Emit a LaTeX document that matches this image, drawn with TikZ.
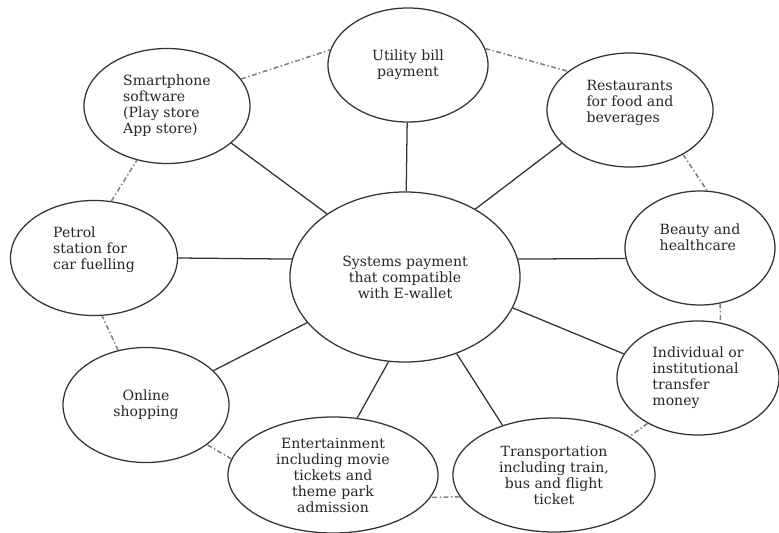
\documentclass[tikz,border=0pt]{standalone}
\usepackage{fontspec}
\setmainfont{DejaVu Serif}
\usetikzlibrary{shapes.geometric}
\begin{document}
\begin{tikzpicture}[x=0.025cm, y=-0.025cm, line join=round,
  bubble/.style={ellipse, draw=black!80, line width=0.9pt, inner sep=0pt,
    font=\fontsize{10}{11.4}\selectfont, text=black!85},
  spoke/.style={draw=black!80, line width=0.9pt},
  ring/.style={draw=black!50, line width=1.1pt, dash pattern=on 3.5pt off 1.8pt on 1pt off 1.8pt}]
\useasboundingbox (0,0) rectangle (779,533);
\node[bubble, minimum width=5.75cm, minimum height=4.25cm, align=center] (center) at (405,277) {Systems payment\\that compatible\\with E-wallet};
\node[bubble, minimum width=4cm,    minimum height=2.85cm, align=center] (utility) at (408,65) {Utility bill\\payment};
\node[bubble, minimum width=4.15cm, minimum height=2.85cm, align=left, text depth=1.2em] (rest) at (630,110) {Restaurants\\for food and\\beverages};
\node[bubble, minimum width=3.75cm, minimum height=2.85cm, align=left, text depth=1.6em] (beauty) at (700,248) {Beauty and\\healthcare};
\node[bubble, minimum width=4.05cm, minimum height=2.85cm, align=left] (indiv) at (698,378) {Individual or\\institutional\\transfer\\money};
\node[bubble, minimum width=5.05cm, minimum height=2.85cm, align=center] (transp) at (554,475) {Transportation\\including train,\\bus and flight\\ticket};
\node[bubble, minimum width=5.25cm, minimum height=2.9cm,  align=center, text depth=-0.6em] (enter) at (333,475) {Entertainment\\including movie\\tickets and\\theme park\\admission};
\node[bubble, minimum width=4.15cm, minimum height=2.875cm, align=center] (online) at (146,405) {Online\\shopping};
\node[bubble, minimum width=4.175cm, minimum height=2.875cm, align=left, text depth=1.4em] (petrol) at (94,258) {Petrol\\station for\\car fuelling};
\node[bubble, minimum width=4.15cm, minimum height=2.875cm, align=left] (smart) at (167,106) {Smartphone\\software\\(Play store\\App store)};
% spokes
\draw[spoke] (utility) -- (center);
\draw[spoke] (center.44) -- (rest.206);
\draw[spoke] (center.9) -- (beauty.188);
\draw[spoke] (center.-16) -- (indiv.162);
\draw[spoke] (center.-56) -- (transp.136);
\draw[spoke] (center.-101) -- (enter.67);
\draw[spoke] (center.205) -- (online.27);
\draw[spoke] (center.171) -- (petrol.east);
\draw[spoke] (center.141) -- (smart.-30);
% outer ring
\draw[ring] (smart.20) -- (utility.169);
\draw[ring] (utility.12) -- (rest.148);
\draw[ring] (rest.-40) -- (beauty.83);
\draw[ring] (beauty.-70) -- (indiv.68);
\draw[ring] (indiv.222) -- (transp.27);
\draw[ring] (transp.193) -- (enter.-13);
\draw[ring] (enter.171) -- (online.-33);
\draw[ring] (online.117) -- (petrol.-82);
\draw[ring] (petrol.73) -- (smart.241);
\end{tikzpicture}
\end{document}
